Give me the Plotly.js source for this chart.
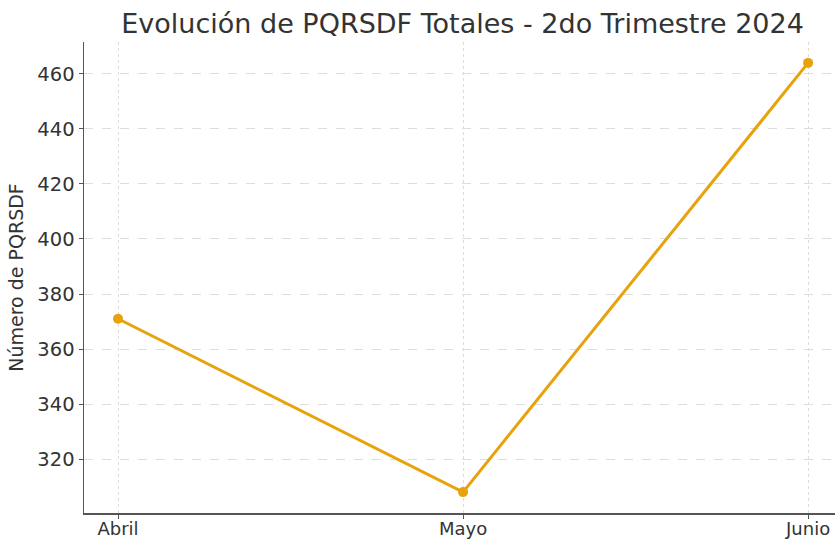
<!DOCTYPE html>
<html>
<head>
<meta charset="utf-8">
<script src="https://cdn.plot.ly/plotly-3.0.1.min.js"></script>
<style>html,body{margin:0;padding:0;background:#fff;}#chart{width:835px;height:540px;}</style>
</head>
<body>
<div id="chart"></div>
<script>
const months = ["Abril", "Mayo", "Junio"];
const totals = [371, 308, 464];
const yTicks = [320, 340, 360, 380, 400, 420, 440, 460];

const trace = {
  x: months,
  y: totals,
  type: "scatter",
  mode: "lines+markers",
  line: {color: "#E8A20C", width: 3},
  marker: {color: "#E8A20C", size: 10},
  hoverinfo: "skip"
};

const layout = {
  width: 835,
  height: 540,
  margin: {l: 84, r: 0, t: 42, b: 27},
  paper_bgcolor: "#fff",
  plot_bgcolor: "#fff",
  font: {family: "DejaVu Sans", color: "#333"},
  showlegend: false,
  title: {
    text: "Evolución de PQRSDF Totales - 2do Trimestre 2024",
    font: {family: "DejaVu Sans", size: 27, color: "#333"},
    x: 0.554, xanchor: "center", y: 0.957, yanchor: "middle"
  },
  xaxis: {
    type: "category",
    range: [-0.0986, 2.078],
    showline: true, linecolor: "#555", linewidth: 1.5,
    ticks: "outside", ticklen: 4, tickcolor: "#555",
    ticklabelstandoff: -5,
    showgrid: true, gridcolor: "#ddd", griddash: "dot", gridwidth: 1,
    tickfont: {size: 18, color: "#333"},
    zeroline: false, fixedrange: true
  },
  yaxis: {
    range: [300.4, 471.6],
    tickvals: yTicks,
    ticktext: yTicks.map(String),
    showline: true, linecolor: "#555", linewidth: 1.5,
    ticks: "outside", ticklen: 4, tickcolor: "#555",
    showgrid: true, gridcolor: "#ddd", griddash: "dash", gridwidth: 1,
    tickfont: {size: 19.5, color: "#333"},
    title: {text: "Número de PQRSDF", font: {size: 19, color: "#333"}, standoff: 8},
    zeroline: false, fixedrange: true
  }
};

Plotly.newPlot("chart", [trace], layout, {staticPlot: true, displayModeBar: false});
</script>
</body>
</html>
